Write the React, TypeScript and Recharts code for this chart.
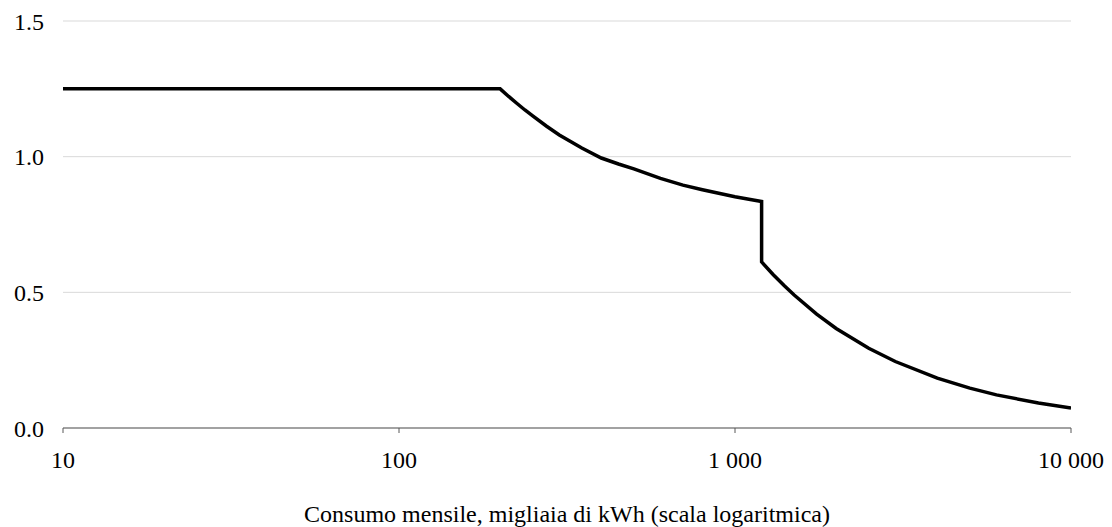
import { LineChart, Line, XAxis, YAxis, CartesianGrid } from "recharts";

// consumo mensile (migliaia di kWh) e valore
const consumo = [
  10, 200, 212, 225, 237, 250, 275, 300, 325, 350, 400, 450, 500, 600, 700,
  800, 1000, 1100, 1200, 1200, 1300, 1400, 1500, 1750, 2000, 2500, 3000,
  4000, 5000, 6000, 8000, 10000,
];
const valore = [
  1.25, 1.25, 1.222, 1.195, 1.172, 1.15, 1.112, 1.08, 1.055, 1.032, 0.995,
  0.973, 0.955, 0.92, 0.895, 0.878, 0.852, 0.843, 0.835, 0.612, 0.565, 0.525,
  0.49, 0.42, 0.367, 0.294, 0.245, 0.184, 0.147, 0.122, 0.092, 0.074,
];
const xTicks = [10, 100, 1000, 10000];
const yTicks = [0, 0.5, 1, 1.5];

const data = consumo.map((x, i) => ({ x, y: valore[i] }));

const font = { fontFamily: "Liberation Serif", fontSize: 24, fill: "#000" };

const fmtThousands = (v: number) =>
  String(Math.round(v)).replace(/\B(?=(\d{3})+(?!\d))/g, " ");

export default function App() {
  return (
    <div style={{ position: "absolute", left: 0, top: 0, background: "#fff" }}>
      <LineChart
        width={1112}
        height={527}
        data={data}
        margin={{ top: 21, right: 41, left: 0, bottom: 0 }}
      >
        <CartesianGrid stroke="#d9d9d9" vertical={false} />
        <XAxis
          dataKey="x"
          type="number"
          scale="log"
          domain={[10, 10000]}
          ticks={xTicks}
          allowDataOverflow
          tickFormatter={(v) => fmtThousands(Number(v))}
          tick={font}
          tickSize={5}
          tickMargin={18}
          stroke="#595959"
          height={99}
          label={{
            value: "Consumo mensile, migliaia di kWh (scala logaritmica)",
            position: "insideBottom",
            offset: 5,
            style: font,
          }}
        />
        <YAxis
          type="number"
          domain={[0, 1.5]}
          ticks={yTicks}
          tickFormatter={(v) => Number(v).toFixed(1)}
          tick={font}
          axisLine={false}
          tickLine={false}
          tickSize={0}
          tickMargin={19}
          width={63}
        />
        <Line
          type="linear"
          dataKey="y"
          stroke="#000"
          strokeWidth={3.5}
          dot={false}
          isAnimationActive={false}
        />
      </LineChart>
    </div>
  );
}
